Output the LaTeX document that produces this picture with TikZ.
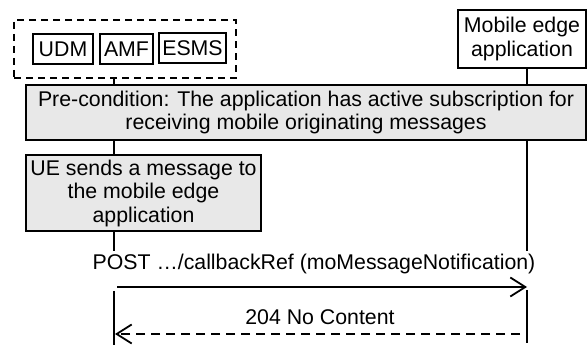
\documentclass[tikz,border=0pt]{standalone}
\usepackage{fontspec}
\setmainfont{Liberation Sans}
\usetikzlibrary{arrows.meta}
\definecolor{boxgray}{RGB}{232, 232, 232}

\begin{document}
\begin{tikzpicture}[
  x=1pt, y=-1pt,
  >={Straight Barb[length=15pt,width=19pt,line width=1.8pt]},
  every node/.style={font=\fontsize{21.3}{23.5}\selectfont},
  entity/.style={draw,line width=1.8pt,inner sep=0pt,align=center},
  group/.style={draw,line width=1.8pt,dash pattern=on 7pt off 5pt,inner sep=0pt},
  note/.style={draw,line width=1.8pt,fill=boxgray,inner sep=0pt,align=center},
  life/.style={line width=1.6pt},
  msg/.style={->,line width=2.2pt},
  reply/.style={->,line width=2.2pt,dash pattern=on 9pt off 6pt},
]
  \useasboundingbox (0,0) rectangle (587,347);

  % --- entities ---
  \node[group,minimum width=222,minimum height=58] (grp) at (125,49) {};
  \node[entity,minimum width=60,minimum height=30] (udm) at (63,49) {UDM};
  \node[entity,minimum width=53,minimum height=30] (amf) at (126.5,49) {AMF};
  \node[entity,minimum width=67,minimum height=30] (esms) at (192.5,48) {ESMS};
  \node[entity,minimum width=128,minimum height=58] (mea) at (522,39)
    {Mobile edge\\application};

  % --- notes ---
  \node[note,minimum width=560,minimum height=55] (pre) at (306,112.5)
    {Pre-condition: The application has active subscription for\\receiving mobile originating messages};
  \node[note,minimum width=235,minimum height=76] (ue) at (143.5,193)
    {UE sends a message to\\the mobile edge\\application};

  % --- lifelines ---
  \coordinate (lx) at (114,0);
  \coordinate (rx) at (527,0);
  \coordinate (lgap) at (114,251);
  \coordinate (rgap) at (527,251);
  \coordinate (lend) at (114,345);
  \coordinate (rend) at (527,343);
  \draw[life] (grp.south -| lx) -- (pre.north -| lx);
  \draw[life] (pre.south -| lx) -- (ue.north -| lx);
  \draw[life] (ue.south -| lx) -- (lgap);
  \draw[life] (mea.south -| rx) -- (pre.north -| rx);
  \draw[life] (pre.south -| rx) -- (rgap);

  % --- messages ---
  \node (post) at (314,264) {POST …/callbackRef (moMessageNotification)};
  \node (nocontent) at (320,317) {204 No Content};
  \coordinate (postL) at (117,287);
  \coordinate (postR) at (527,287);
  \coordinate (repR) at (520,334);
  \coordinate (repL) at (115,334);
  \draw[msg] (postL) -- (postR);
  \draw[reply] (repR) -- (repL);
  \draw[life] (114,291) -- (lend);
  \draw[life] (527,290) -- (rend);

\end{tikzpicture}
\end{document}
